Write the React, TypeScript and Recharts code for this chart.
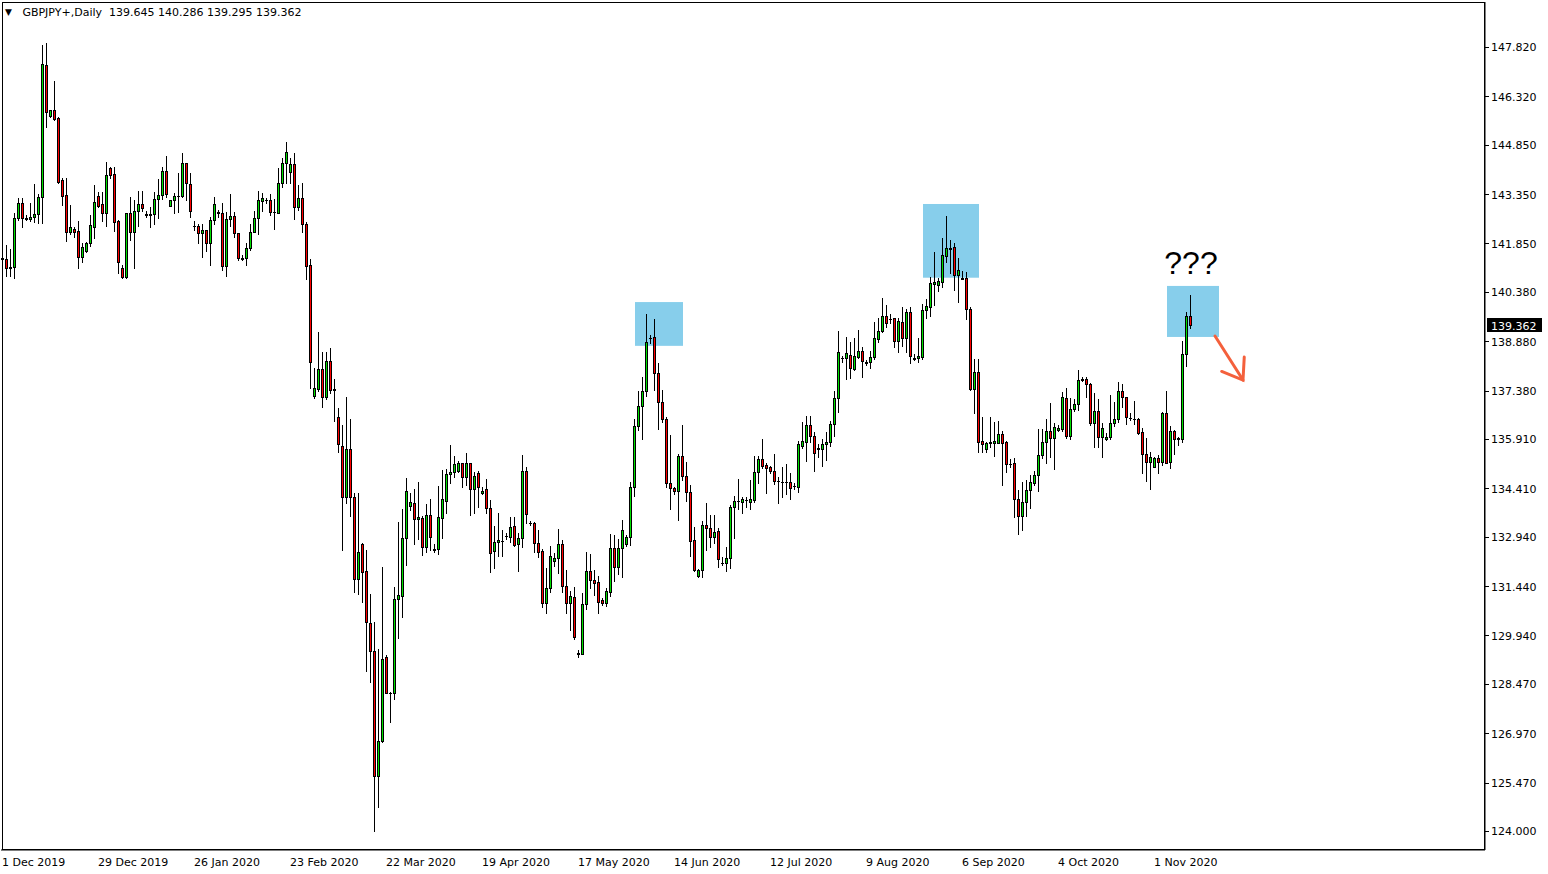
import React from 'react';
import { ComposedChart, Bar, XAxis, YAxis, ReferenceArea, ReferenceLine } from 'recharts';

// GBPJPY daily candles, 1 Dec 2019 .. 11 Nov 2020
const opens = [
  141.41, 141.37, 141.13, 141.13, 142.62, 143.07, 142.62, 142.58, 142.65, 142.74,
  143.25, 147.27, 145.73, 145.91, 145.65, 143.78, 143.32, 142.21, 142.28, 142.23,
  141.45, 141.63, 141.86, 142.36, 143.29, 143.05, 142.79, 144.13, 143.96, 142.54,
  141.10, 140.82, 142.77, 142.19, 142.84, 143.04, 142.74, 142.74, 142.74, 143.19,
  143.31, 144.05, 142.99, 143.17, 143.29, 143.29, 144.29, 143.66, 142.39, 142.38,
  142.16, 142.26, 141.86, 142.56, 142.80, 142.77, 141.18, 142.58, 142.69, 142.16,
  141.40, 141.40, 141.70, 142.19, 142.62, 143.15, 143.17, 143.17, 142.82, 142.77,
  143.68, 144.29, 144.01, 144.26, 142.95, 143.22, 142.43, 141.20, 137.23, 137.42,
  138.04, 137.19, 138.28, 137.40, 136.57, 135.71, 134.14, 135.61, 134.16, 131.65,
  132.72, 131.90, 130.31, 129.48, 125.68, 126.73, 129.30, 128.20, 128.18, 131.04,
  131.15, 132.89, 133.87, 133.96, 133.47, 133.50, 132.62, 133.60, 132.56, 132.56,
  133.50, 134.03, 134.84, 134.90, 134.95, 135.17, 134.75, 135.17, 134.38, 134.89,
  134.26, 134.38, 133.80, 132.52, 132.77, 132.82, 132.97, 132.94, 133.27, 132.72,
  132.89, 134.94, 133.37, 133.35, 132.74, 132.51, 130.92, 131.37, 132.21, 132.28,
  132.71, 131.45, 130.94, 131.10, 129.40, 129.37, 130.89, 131.90, 131.63, 131.56,
  131.02, 130.94, 131.27, 132.59, 132.03, 132.59, 132.71, 132.92, 134.44, 136.30,
  136.91, 137.37, 138.99, 139.00, 137.91, 137.04, 136.52, 134.56, 134.41, 134.34,
  135.39, 134.79, 134.29, 132.84, 131.75, 131.93, 133.30, 133.20, 132.94, 133.11,
  132.15, 132.13, 132.28, 133.83, 134.03, 134.01, 134.06, 134.01, 134.06, 134.90,
  135.29, 135.12, 135.05, 134.95, 134.64, 134.61, 134.61, 134.61, 134.49, 134.46,
  135.71, 135.83, 136.33, 136.01, 135.63, 135.60, 135.75, 135.81, 136.36, 137.15,
  138.38, 138.38, 138.46, 138.04, 138.41, 138.58, 138.24, 138.24, 138.39, 138.94,
  139.20, 139.66, 139.56, 139.58, 138.89, 139.47, 138.99, 139.76, 138.36, 138.36,
  138.41, 139.83, 139.93, 140.62, 140.59, 140.69, 141.48, 141.70, 141.73, 140.89,
  140.79, 140.79, 139.86, 137.43, 137.94, 135.85, 135.60, 135.78, 135.80, 135.78,
  136.05, 135.81, 135.15, 135.17, 134.08, 133.58, 133.99, 134.36, 134.56, 134.82,
  135.42, 135.81, 136.15, 135.95, 136.18, 136.21, 137.15, 136.01, 136.81, 136.96,
  137.72, 137.73, 137.58, 136.39, 136.76, 135.96, 135.90, 135.96, 136.41, 136.52,
  137.37, 137.18, 136.56, 136.52, 136.52, 136.11, 135.44, 135.22, 135.07, 135.32,
  135.22, 136.69, 135.20, 136.15, 135.94, 135.90, 138.49, 139.645,
];

const highs = [
  141.50, 141.80, 141.68, 142.77, 143.22, 143.22, 142.72, 143.07, 143.66, 143.35,
  147.88, 147.93, 145.91, 146.79, 145.68, 143.83, 143.83, 143.02, 142.36, 142.53,
  141.86, 141.90, 142.72, 143.63, 143.42, 143.41, 144.32, 144.17, 144.17, 142.56,
  141.20, 142.77, 143.27, 143.17, 143.44, 143.44, 142.84, 142.95, 143.42, 143.80,
  144.17, 144.51, 143.17, 143.37, 143.98, 144.59, 144.30, 143.98, 142.53, 142.44,
  142.43, 142.26, 142.66, 143.27, 142.87, 143.09, 142.80, 143.34, 142.82, 142.18,
  141.50, 141.86, 142.44, 142.84, 143.44, 143.37, 143.22, 143.34, 143.20, 144.15,
  144.44, 144.92, 144.44, 144.59, 143.63, 143.68, 142.51, 141.37, 138.06, 139.17,
  138.56, 138.56, 138.67, 137.73, 136.84, 136.33, 137.19, 136.51, 134.26, 134.26,
  132.76, 132.54, 131.20, 130.34, 129.53, 132.03, 129.35, 128.23, 131.42, 133.40,
  133.77, 134.73, 134.26, 134.39, 134.59, 133.57, 133.93, 134.08, 132.72, 134.48,
  134.97, 134.99, 135.73, 135.39, 135.25, 135.19, 135.47, 135.19, 134.92, 134.94,
  134.44, 134.69, 134.06, 133.27, 133.65, 133.14, 133.04, 133.53, 133.53, 133.04,
  135.42, 135.05, 133.43, 133.40, 133.14, 132.56, 131.98, 132.66, 132.44, 133.17,
  132.84, 131.93, 131.30, 131.40, 129.50, 131.24, 132.47, 132.42, 131.93, 131.75,
  131.07, 131.37, 133.02, 132.99, 132.87, 133.45, 132.99, 134.59, 136.52, 137.37,
  137.78, 139.71, 139.07, 139.56, 138.23, 137.40, 136.59, 136.03, 134.46, 135.45,
  136.33, 135.20, 134.51, 133.23, 131.96, 133.42, 133.96, 133.60, 133.60, 133.21,
  132.33, 132.64, 133.90, 134.18, 134.69, 134.16, 134.14, 134.66, 135.39, 135.39,
  135.91, 135.17, 135.10, 135.45, 134.75, 135.05, 135.15, 134.89, 134.56, 135.86,
  136.42, 136.61, 136.61, 136.13, 135.76, 135.90, 136.11, 136.46, 137.37, 139.19,
  138.44, 139.00, 138.85, 138.97, 139.22, 138.71, 138.31, 138.59, 139.46, 139.58,
  140.18, 139.98, 139.70, 139.60, 139.60, 139.91, 139.85, 139.91, 138.48, 138.97,
  140.01, 140.15, 140.84, 141.60, 140.79, 142.03, 142.69, 141.96, 141.87, 141.42,
  141.01, 140.97, 139.93, 138.34, 138.34, 136.58, 135.83, 136.57, 136.44, 136.46,
  136.16, 135.85, 135.29, 135.32, 134.36, 134.59, 134.66, 134.82, 134.94, 136.21,
  136.20, 136.52, 137.01, 136.39, 136.33, 137.33, 137.45, 137.15, 137.13, 138.01,
  137.80, 137.80, 137.62, 137.30, 137.13, 136.41, 136.08, 137.25, 137.02, 137.65,
  137.58, 137.19, 136.69, 137.06, 136.54, 136.25, 135.93, 135.51, 135.37, 135.42,
  136.74, 137.37, 136.30, 136.18, 135.98, 138.89, 139.78, 140.286,
];

const lows = [
  141.29, 140.86, 140.86, 140.79, 142.56, 142.34, 142.56, 142.54, 142.51, 142.48,
  142.46, 145.40, 145.70, 145.60, 143.68, 143.02, 141.93, 142.14, 142.06, 141.11,
  141.28, 141.58, 141.78, 142.01, 142.97, 142.54, 142.39, 143.83, 142.24, 140.96,
  140.79, 140.79, 141.96, 141.10, 142.39, 142.84, 142.65, 142.34, 142.43, 142.63,
  143.19, 143.27, 142.99, 142.77, 142.82, 143.27, 143.17, 142.66, 142.26, 141.86,
  141.45, 141.63, 141.20, 142.43, 142.65, 141.04, 140.87, 142.39, 142.06, 141.35,
  141.35, 141.20, 141.65, 142.19, 142.13, 142.84, 143.07, 142.72, 142.28, 142.77,
  143.56, 143.68, 143.68, 142.58, 142.87, 142.19, 140.76, 137.47, 137.15, 137.37,
  136.89, 137.12, 137.30, 136.46, 135.52, 132.54, 133.97, 133.58, 131.25, 131.19,
  130.95, 128.86, 128.54, 124.00, 124.74, 126.71, 128.18, 127.30, 128.00, 129.85,
  130.51, 132.08, 133.75, 132.71, 132.87, 132.39, 132.49, 132.54, 132.49, 132.42,
  132.91, 133.67, 134.58, 134.76, 134.92, 134.46, 134.51, 133.60, 133.67, 133.85,
  134.24, 133.67, 131.88, 132.00, 132.35, 132.35, 132.86, 132.79, 132.66, 131.90,
  132.64, 133.35, 133.30, 132.49, 132.32, 130.80, 130.61, 131.25, 132.06, 131.85,
  131.27, 130.61, 130.11, 129.83, 129.28, 129.37, 130.74, 131.37, 131.17, 130.63,
  130.87, 130.84, 131.15, 131.60, 131.80, 131.73, 132.66, 132.69, 134.18, 136.18,
  135.91, 137.22, 138.84, 137.40, 136.20, 136.42, 134.44, 133.77, 134.24, 133.45,
  134.66, 134.03, 132.36, 131.90, 131.71, 131.73, 132.54, 132.64, 132.76, 132.01,
  132.08, 131.91, 131.98, 132.91, 133.77, 133.67, 133.85, 133.77, 133.99, 134.56,
  135.02, 134.26, 134.89, 134.54, 133.96, 134.14, 134.24, 134.08, 134.39, 134.31,
  135.63, 135.25, 135.83, 134.94, 135.37, 135.10, 135.27, 135.71, 136.00, 136.74,
  138.26, 137.72, 137.75, 138.01, 138.36, 137.80, 138.16, 138.06, 138.33, 138.85,
  139.17, 139.30, 139.42, 138.70, 138.56, 138.74, 138.54, 138.21, 138.31, 138.26,
  138.33, 139.60, 139.66, 139.98, 140.42, 140.54, 141.30, 140.96, 140.44, 140.08,
  140.77, 139.56, 137.40, 136.69, 135.52, 135.52, 135.52, 135.68, 135.40, 135.78,
  134.51, 134.92, 135.07, 133.53, 133.02, 133.14, 133.58, 133.80, 134.51, 134.34,
  135.34, 135.17, 135.37, 135.00, 136.15, 136.15, 135.93, 135.91, 136.77, 136.79,
  137.67, 137.19, 136.33, 135.66, 135.66, 135.35, 135.88, 135.90, 136.30, 136.44,
  136.89, 136.37, 136.49, 136.37, 136.06, 134.87, 134.64, 134.38, 135.05, 134.87,
  135.12, 135.19, 135.04, 135.44, 135.73, 135.83, 138.13, 139.295,
];

const closes = [
  141.38, 141.10, 141.11, 142.62, 143.07, 142.63, 142.59, 142.65, 142.74, 143.25,
  147.30, 145.85, 145.91, 145.62, 143.73, 143.30, 142.21, 142.34, 142.21, 141.45,
  141.73, 141.86, 142.41, 143.10, 143.00, 142.79, 143.93, 143.93, 142.51, 141.28,
  140.82, 142.77, 142.19, 142.84, 143.04, 142.94, 142.73, 142.73, 143.19, 143.31,
  144.05, 143.34, 143.17, 143.29, 143.28, 144.29, 143.68, 142.85, 142.38, 142.16,
  142.26, 141.86, 142.56, 143.04, 142.79, 141.18, 142.58, 142.69, 142.16, 141.40,
  141.39, 141.70, 142.19, 142.62, 143.17, 143.22, 143.16, 142.82, 142.81, 143.68,
  144.29, 144.62, 144.26, 142.95, 143.22, 142.43, 141.18, 138.26, 137.45, 138.04,
  137.19, 138.28, 137.40, 137.43, 135.76, 134.14, 135.61, 134.16, 131.65, 132.49,
  131.88, 130.34, 129.48, 125.68, 126.73, 129.23, 128.20, 128.18, 131.05, 131.17,
  132.89, 134.33, 133.99, 133.47, 133.53, 132.62, 133.60, 132.92, 132.55, 133.53,
  134.08, 134.85, 134.90, 135.14, 135.17, 134.75, 135.17, 134.38, 134.79, 134.44,
  134.34, 133.80, 132.44, 132.77, 132.84, 132.81, 132.96, 133.23, 132.69, 132.89,
  134.94, 133.63, 133.36, 132.76, 132.49, 130.92, 131.37, 132.35, 132.28, 132.71,
  131.45, 130.94, 131.14, 129.90, 129.39, 130.89, 131.90, 131.63, 131.54, 130.97,
  130.94, 131.29, 132.59, 132.03, 132.59, 133.14, 132.92, 134.44, 136.30, 136.91,
  137.37, 138.85, 138.98, 137.91, 137.04, 136.51, 134.56, 134.41, 134.34, 135.39,
  134.79, 134.29, 132.82, 131.93, 131.93, 133.30, 133.20, 132.94, 133.07, 132.25,
  132.14, 132.28, 133.83, 134.03, 134.02, 134.08, 134.05, 134.08, 134.90, 135.29,
  135.10, 135.02, 134.95, 134.64, 134.63, 134.60, 134.60, 134.41, 134.48, 135.75,
  135.85, 136.33, 136.01, 135.47, 135.62, 135.75, 135.81, 136.36, 137.15, 138.54,
  138.37, 138.51, 138.06, 138.43, 138.58, 138.29, 138.23, 138.39, 138.97, 139.20,
  139.65, 139.44, 139.55, 138.89, 139.50, 138.99, 139.76, 138.44, 138.35, 138.43,
  139.83, 139.95, 140.64, 140.69, 140.72, 141.50, 141.70, 141.69, 140.89, 141.04,
  140.78, 139.85, 137.43, 137.94, 135.83, 135.75, 135.78, 135.83, 135.85, 136.05,
  135.78, 135.14, 135.14, 134.08, 133.58, 133.99, 134.36, 134.59, 134.82, 135.42,
  135.83, 136.15, 135.95, 136.28, 136.23, 137.18, 136.01, 136.81, 136.96, 137.70,
  137.71, 137.58, 136.41, 136.76, 135.96, 136.23, 135.96, 136.41, 136.52, 137.37,
  137.18, 136.57, 136.55, 136.51, 136.10, 135.44, 135.22, 135.37, 135.32, 135.22,
  136.71, 135.19, 136.15, 135.90, 135.91, 138.49, 139.65, 139.362,
];

// one label every 24 bars (4 weeks incl. Sunday bars)
const dateLabels = [
  '1 Dec 2019', '29 Dec 2019', '26 Jan 2020', '23 Feb 2020', '22 Mar 2020',
  '19 Apr 2020', '17 May 2020', '14 Jun 2020', '12 Jul 2020', '9 Aug 2020',
  '6 Sep 2020', '4 Oct 2020', '1 Nov 2020',
];

const priceTicks = [
  147.82, 146.32, 144.85, 143.35, 141.85, 140.38, 138.88, 137.38, 135.91,
  134.41, 132.94, 131.44, 129.94, 128.47, 126.97, 125.47, 124.0,
];

// highlighted zones: [first bar, last bar, top price, bottom price]
const zones = [
  [158, 169, 140.07, 138.74],
  [230, 243, 143.05, 140.81],
  [291, 303, 140.56, 139.01],
];

const lastPrice = 139.362;
const SLOTS = 371;
const BULL = '#00E000';
const BEAR = '#FF0000';
const ZONE = '#87CEEB';
const FONT = '"DejaVu Sans", sans-serif';

const data = Array.from({ length: SLOTS }, (_, i) =>
  i < opens.length
    ? { i, range: [lows[i], highs[i]], open: opens[i], high: highs[i], low: lows[i], close: closes[i] }
    : { i, range: null }
);

function Candle(props: any) {
  const { x, y, width, height, payload } = props;
  if (!payload || payload.open == null || x == null) return <g />;
  const { open, close, high, low } = payload;
  const top = Math.min(y, y + height);
  const bottom = Math.max(y, y + height);
  const span = high - low;
  const toY = (p: number) => (span > 0 ? top + ((high - p) / span) * (bottom - top) : top);
  const cx = Math.floor(x + width / 2);
  const yH = Math.round(toY(high));
  const yL = Math.round(toY(low));
  const yO = Math.round(toY(open));
  const yC = Math.round(toY(close));
  const bTop = Math.min(yO, yC);
  const bBot = Math.max(yO, yC);
  return (
    <g>
      <rect x={cx} y={yH} width={1} height={Math.max(1, yL - yH + 1)} fill="#000" />
      <rect x={cx - 1} y={bTop} width={3} height={bBot - bTop + 1} fill="#000" />
      {bBot - bTop > 1 && (
        <rect x={cx} y={bTop + 1} width={1} height={bBot - bTop - 1} fill={close > open ? BULL : BEAR} />
      )}
    </g>
  );
}

function TimeTick(props: any) {
  const { x, y, payload } = props;
  const label = dateLabels[payload.value / 24];
  if (!label) return <g />;
  return (
    <text x={x - 1} y={y + 12} fontSize={11} fontFamily={FONT} fill="#000" textAnchor="start" dominantBaseline="central">
      {label}
    </text>
  );
}

function PriceTick(props: any) {
  const { x, y, payload } = props;
  return (
    <g>
      <line x1={x} x2={x + 4} y1={Math.round(y) + 0.5} y2={Math.round(y) + 0.5} stroke="#000" />
      <text x={x + 6} y={y + 1} fontSize={11} fontFamily={FONT} fill="#000" dominantBaseline="central">
        {payload.value.toFixed(3)}
      </text>
    </g>
  );
}

function PriceTag(props: any) {
  const vb = props.viewBox || {};
  const right = vb.x + vb.width;
  const cy = Math.round(vb.y);
  return (
    <g>
      <rect x={right + 2} y={cy - 7} width={55} height={14} fill="#000" />
      <text x={right + 6} y={cy + 1} fontSize={11} fontFamily={FONT} fill="#fff" dominantBaseline="central">
        {lastPrice.toFixed(3)}
      </text>
    </g>
  );
}

function Arrow(props: any) {
  const { x1, y1, x2, y2 } = props;
  if (x1 == null) return <g />;
  const ang = Math.atan2(y2 - y1, x2 - x1);
  const len = 23;
  const a1 = ang + Math.PI - 0.62;
  const a2 = ang + Math.PI + 0.62;
  return (
    <g stroke="#F4603C" strokeWidth={3} strokeLinecap="round" fill="none">
      <line x1={x1} y1={y1} x2={x2} y2={y2} />
      <polyline
        points={`${x2 + len * Math.cos(a1)},${y2 + len * Math.sin(a1)} ${x2},${y2} ${x2 + len * Math.cos(a2)},${y2 + len * Math.sin(a2)}`}
      />
    </g>
  );
}

function Zone(props: any) {
  const { x, y, width, height } = props;
  // anchored at bar centres like the terminal does
  return <rect x={x + 2} y={y} width={width} height={height} fill={ZONE} />;
}

export default function App() {
  return (
    <div style={{ position: 'absolute', left: 0, top: 0, width: 1548, height: 874, background: '#fff' }}>
      <ComposedChart width={1548} height={874} data={data} margin={{ top: 2, right: 0, bottom: 0, left: 1 }}>
        <XAxis
          dataKey="i"
          type="category"
          height={24}
          interval={23}
          tickSize={0}
          tickMargin={0}
          tickLine={false}
          axisLine={{ stroke: '#000' }}
          tick={<TimeTick />}
        />
        <YAxis
          orientation="right"
          width={63}
          domain={[123.422, 149.187]}
          allowDataOverflow
          ticks={priceTicks}
          tickSize={0}
          tickMargin={0}
          tickLine={false}
          axisLine={{ stroke: '#000' }}
          tick={<PriceTick />}
          interval={0}
        />
        {zones.map((z, k) => (
          <ReferenceArea
            key={k}
            x1={z[0]}
            x2={z[1]}
            y1={z[3]}
            y2={z[2]}
            fill={ZONE}
            fillOpacity={1}
            shape={<Zone />}
            label={
              k === 2
                ? { value: '???', position: 'top', offset: 12, fontSize: 32, fontFamily: 'Liberation Sans, Arial, sans-serif', fill: '#000' }
                : undefined
            }
          />
        ))}
        <Bar dataKey="range" shape={<Candle />} isAnimationActive={false} />
        <ReferenceLine y={lastPrice} stroke="none" label={<PriceTag />} />
        <ReferenceLine
          segment={[{ x: 303, y: 139.04 }, { x: 310, y: 137.7 }]}
          ifOverflow="visible"
          shape={<Arrow />}
        />
      </ComposedChart>
      <div
        style={{
          position: 'absolute', left: 2, top: 2, width: 1483, height: 848,
          boxSizing: 'border-box', border: '1px solid #000', pointerEvents: 'none',
        }}
      />
      <div
        style={{
          position: 'absolute', left: 5, top: 6, font: `11px ${FONT}`, lineHeight: '14px',
          whiteSpace: 'pre', color: '#000',
        }}
      >
        <span style={{ fontSize: 9, position: 'relative', top: -1 }}>▼</span>
        {'   GBPJPY+,Daily  139.645 140.286 139.295 139.362'}
      </div>
    </div>
  );
}
